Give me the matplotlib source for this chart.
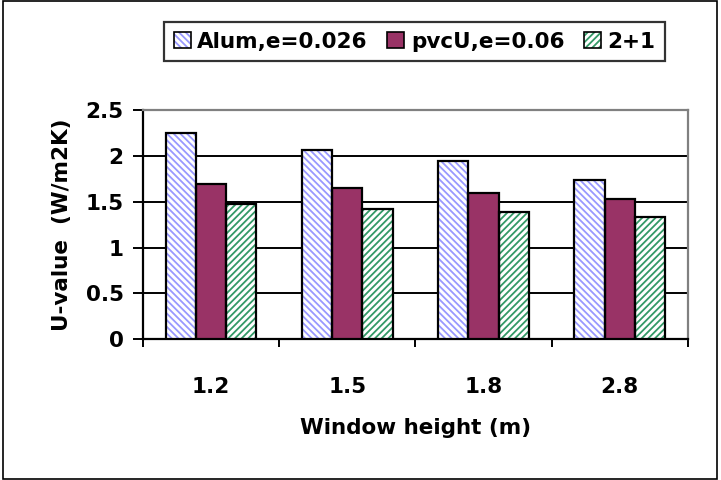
import numpy as np
import matplotlib
matplotlib.use("Agg")
import matplotlib.pyplot as plt
from matplotlib.patches import Patch, Rectangle

plt.rcParams['font.family'] = ['DejaVu Sans']
plt.rcParams['font.weight'] = 'bold'
plt.rcParams['axes.labelweight'] = 'bold'
plt.rcParams['hatch.linewidth'] = 1.3

# window heights and U-values per frame type
heights = ['1.2', '1.5', '1.8', '2.8']
alum = [2.25, 2.07, 1.95, 1.74]
pvcu = [1.70, 1.65, 1.60, 1.53]
two_plus_one = [1.48, 1.42, 1.39, 1.33]

names = ['Alum,e=0.026', 'pvcU,e=0.06', '2+1']
fills = ['white', '#993366', 'white']
hatch_cols = ['#9999FF', '#993366', '#339966']
hatches = ['\\\\\\\\\\', '', '/////']

fs = 15.5
fig = plt.figure(figsize=(7.21, 4.80), dpi=100)
ax = fig.add_axes([0.1983, 0.2937, 0.7557, 0.4763])

x = np.arange(len(heights))
w = 1 / 4.5
series = [alum, pvcu, two_plus_one]
for i, vals in enumerate(series):
    pos = x + (i - 1) * w
    # hatch layer first, then a black outline on top
    ax.bar(pos, vals, w, color=fills[i], edgecolor=hatch_cols[i],
           hatch=hatches[i], linewidth=0, zorder=3)
    ax.bar(pos, vals, w, fill=False, edgecolor='black', linewidth=1.6, zorder=4)

ax.set_xlim(-0.5, len(heights) - 0.5)
ax.set_ylim(0, 2.5)
ax.set_yticks([0, 0.5, 1, 1.5, 2, 2.5])
ax.set_yticklabels(['0', '0.5', '1', '1.5', '2', '2.5'], fontsize=fs)
ax.yaxis.grid(True, color='black', linewidth=1.4, zorder=1)
ax.set_axisbelow(True)

ax.set_xticks(x)
ax.set_xticklabels(heights, fontsize=fs)
ax.set_xticks(np.arange(len(heights) + 1) - 0.5, minor=True)
ax.tick_params(axis='x', which='major', length=0, pad=27)
ax.tick_params(axis='x', which='minor', length=6, width=1.4, direction='out')
ax.tick_params(axis='y', length=7, width=1.4, direction='out', pad=7)

for side in ['left', 'bottom']:
    ax.spines[side].set_linewidth(1.6)
    ax.spines[side].set_color('black')
for side in ['top', 'right']:
    ax.spines[side].set_linewidth(1.6)
    ax.spines[side].set_color('#808080')

ax.set_ylabel('U-value  (W/m2K)', fontsize=fs)
ax.yaxis.set_label_coords(-0.13, 0.5)
ax.set_xlabel('Window height (m)', fontsize=fs)
ax.xaxis.set_label_coords(0.5, -0.345)

# legend keys: hatched square with a black outline over it
handles = [(Patch(facecolor=fills[i], edgecolor=hatch_cols[i], hatch=hatches[i], linewidth=0),
            Patch(fill=False, edgecolor='black', linewidth=1.2)) for i in range(3)]
leg = fig.legend(handles, names, loc='center', bbox_to_anchor=(0.575, 0.9135),
                 ncol=3, fontsize=fs, frameon=True, fancybox=False,
                 edgecolor='black', handlelength=0.8, handleheight=0.8,
                 handletextpad=0.3, columnspacing=0.9, borderpad=0.45)
leg.get_frame().set_linewidth(1.6)

# outer border round the whole chart
fig.patches.append(Rectangle((0.004, 0.002), 0.991, 0.996, transform=fig.transFigure,
                             fill=False, edgecolor='black', linewidth=1.2))

fig.savefig('out.png', dpi=100)
